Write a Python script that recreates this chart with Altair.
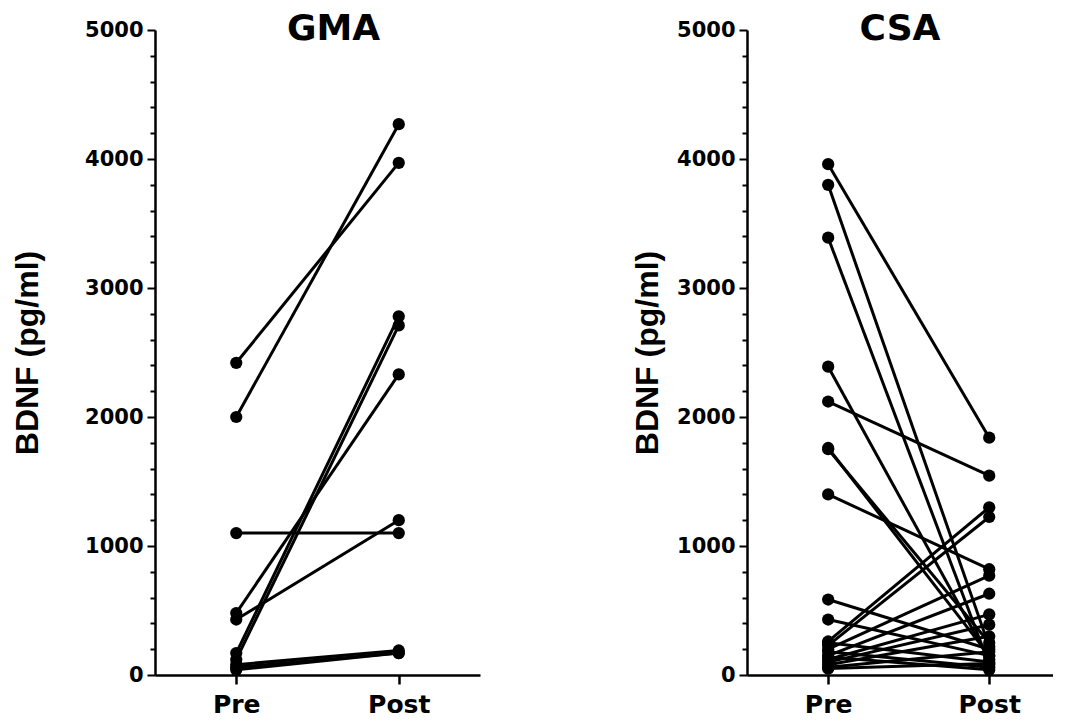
import altair as alt
import pandas as pd

# ---- data ----
gma_pre = [2420, 2000, 1100, 480, 430, 170, 120, 80, 60, 40]
gma_post = [3970, 4270, 1100, 2330, 1200, 2780, 2710, 190, 170, 170]

csa_pre = [3960, 3800, 3390, 2390, 2120, 1760, 1750, 1400, 585, 430,
           260, 230, 200, 150, 120, 100, 250, 180, 80, 60, 50, 140]
csa_post = [1840, 220, 80, 120, 1545, 150, 250, 820, 200, 150,
            1300, 1225, 770, 630, 470, 390, 100, 60, 300, 180, 90, 40]

times = ["Pre", "Post"]
y_ticks = list(range(0, 5001, 200))


def long_df(pre, post):
    rows = []
    for i, (a, b) in enumerate(zip(pre, post)):
        rows.append({"subject": i, "time": "Pre", "value": a})
        rows.append({"subject": i, "time": "Post", "value": b})
    return pd.DataFrame(rows)


def panel(df, title, title_pad, title_dx, width, pad, align):
    x = alt.X("time:N", sort=times, title=None,
              scale=alt.Scale(type="point", padding=pad, align=align),
              axis=alt.Axis(labelAngle=0, labelFont="DejaVu Sans", labelFontSize=25,
                            labelFontWeight="bold", labelColor="black", labelPadding=8,
                            domainColor="black", domainWidth=2.5, tickColor="black",
                            tickWidth=2.5, tickSize=9, grid=False))
    y = alt.Y("value:Q", title="BDNF (pg/ml)",
              scale=alt.Scale(domain=[0, 5000], nice=False),
              axis=alt.Axis(values=y_ticks, format="d",
                            labelExpr="datum.value % 1000 === 0 ? datum.label : ''",
                            labelFont="DejaVu Sans", labelFontSize=21, labelFontWeight="bold",
                            labelColor="black", labelPadding=4,
                            titleFont="Liberation Sans", titleFontSize=32,
                            titleFontWeight="bold", titleColor="black",
                            titlePadding=title_pad,
                            domainColor="black", domainWidth=2.5,
                            tickColor="black", tickWidth=2,
                            tickSize={"condition": {"test": "datum.value % 1000 === 0", "value": 8}, "value": 5},
                            grid=False))
    line = alt.Chart(df).mark_line(color="black", strokeWidth=3).encode(
        x=x, y=y, detail="subject:N")
    pts = alt.Chart(df).mark_circle(color="black", opacity=1, size=150).encode(
        x=x, y=y)
    return alt.layer(line, pts).properties(
        width=width, height=645,
        title=alt.TitleParams(title, font="DejaVu Sans", fontSize=36, fontWeight="bold",
                              color="black", anchor="middle", offset=-29, dx=title_dx))


left = panel(long_df(gma_pre, gma_post), "GMA", 40, 16, 325, 0.5, 0.5)
right = panel(long_df(csa_pre, csa_post), "CSA", 12, 0, 306, 0.45, 0.56)

chart = alt.hconcat(left, right, spacing=151).properties(
    padding={"left": 3, "top": 3, "right": 0, "bottom": 0},
    background="white"
).configure_view(stroke="transparent", strokeWidth=0)

chart.save("out.html", embed_options={"renderer": "svg", "actions": False})
